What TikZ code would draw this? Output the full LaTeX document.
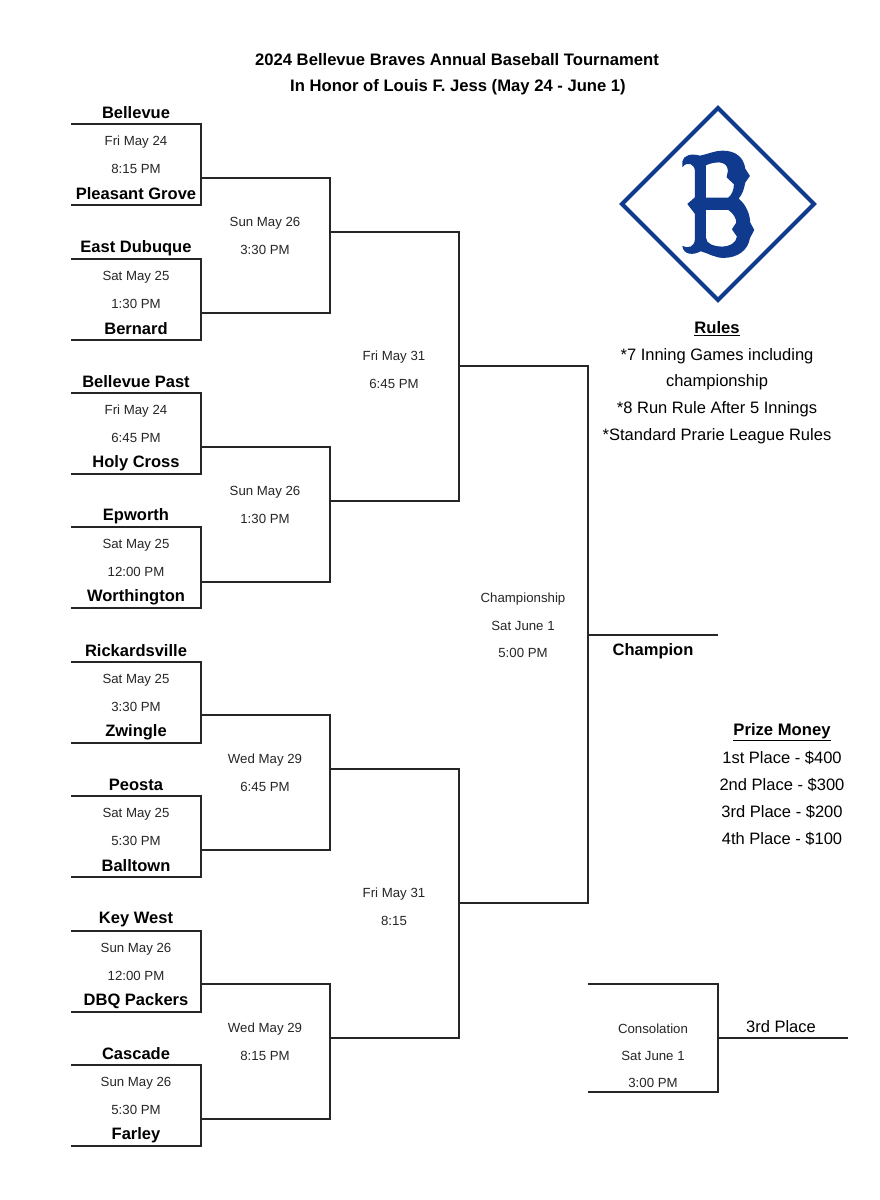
\documentclass[tikz,border=0pt]{standalone}
\usepackage{fontspec}
\setmainfont{Liberation Sans}
\definecolor{bravesblue}{HTML}{103A8E}

\begin{document}
\begin{tikzpicture}[x=0.03cm,y=-0.03cm,
    team/.style={font=\fontsize{14.1pt}{16pt}\selectfont\bfseries},
    game/.style={font=\fontsize{11.3pt}{13pt}\selectfont,text=black!85},
    note/.style={font=\fontsize{14.1pt}{16pt}\selectfont},
    heading/.style={font=\fontsize{14.2pt}{16pt}\selectfont\bfseries},
    bracket/.style={line width=1.05pt,black!85,line join=miter}]
    \useasboundingbox[fill=white] (0,0) rectangle (880,1200);

    % 标题
    \node[heading] (title1) at (457,60) {2024 Bellevue Braves Annual Baseball Tournament};
    \node[heading] (title2) at (458,87) {In Honor of Louis F. Jess (May 24 - June 1)};

    % 第一轮
    \foreach \n/\y/\a/\b/\d/\t in {1/124/Bellevue/Pleasant Grove/Fri May 24/8:15 PM,
        2/259/East Dubuque/Bernard/Sat May 25/1:30 PM,
        3/393/Bellevue Past/Holy Cross/Fri May 24/6:45 PM,
        4/527/Epworth/Worthington/Sat May 25/12:00 PM,
        5/662/Rickardsville/Zwingle/Sat May 25/3:30 PM,
        6/796/Peosta/Balltown/Sat May 25/5:30 PM,
        7/931/Key West/DBQ Packers/Sun May 26/12:00 PM,
        8/1065/Cascade/Farley/Sun May 26/5:30 PM} {
        \draw[bracket] (71,\y) -| (201,\y+81) -- (71,\y+81);
        \node[team] (top\n) at (136,\y-11) {\a};
        \node[team] (bot\n) at (136,\y+70) {\b};
        \node[game] (day\n) at (136,\y+18) {\d};
        \node[game] (time\n) at (136,\y+45) {\t};
    }

    % 第二轮
    \foreach \n/\y/\d/\t in {1/178/Sun May 26/3:30 PM,2/447/Sun May 26/1:30 PM,3/715/Wed May 29/6:45 PM,4/984/Wed May 29/8:15 PM} {
        \draw[bracket] (201,\y) -| (330,\y+135) -- (201,\y+135);
        \node[game] (dayb\n) at (265,\y+45) {\d};
        \node[game] (timeb\n) at (265,\y+72) {\t};
    }

    % 半决赛
    \foreach \n/\y/\d/\t in {1/232/Fri May 31/6:45 PM,2/769/Fri May 31/8:15} {
        \draw[bracket] (330,\y) -| (459,\y+269) -- (330,\y+269);
        \node[game] (dayc\n) at (394,\y+125) {\d};
        \node[game] (timec\n) at (394,\y+152) {\t};
    }

    % 决赛
    \draw[bracket] (459,366) -| (588,903) -- (459,903);
    \draw[bracket] (588,635) -- (718,635);
    \node[game] (final1) at (523,599) {Championship};
    \node[game] (final2) at (523,626) {Sat June 1};
    \node[game] (final3) at (523,653) {5:00 PM};
    \node[team] (champion) at (653,651) {Champion};

    % 季军赛
    \draw[bracket] (588,984) -| (718,1092) -- (588,1092);
    \draw[bracket] (718,1038) -- (848,1038);
    \node[game] (cons1) at (653,1029) {Consolation};
    \node[game] (cons2) at (653,1056) {Sat June 1};
    \node[game] (cons3) at (653,1083) {3:00 PM};
    \node[note] (third) at (781,1027) {3rd Place};

    % 队徽
    \draw[bravesblue,line width=3.4pt,line join=miter] (718,108) -- (814,204) -- (718,300) -- (622,204) -- cycle;
    \begin{scope}[shift={(600,90)},x=0.01cm,y=-0.01cm]
        \fill[bravesblue,even odd rule] (247,215) .. controls (250,195) and (275,190) .. (300,197)
            .. controls (325,192) and (345,182) .. (368,182)
            .. controls (410,182) and (432,205) .. (436,236) -- (450,258) -- (436,278)
            .. controls (432,300) and (426,315) .. (416,326)
            .. controls (440,345) and (450,375) .. (451,398) -- (463,420) -- (450,445)
            .. controls (444,482) and (412,504) .. (370,504)
            .. controls (345,504) and (325,490) .. (302,484)
            .. controls (280,497) and (250,495) .. (247,468)
            .. controls (265,478) and (285,470) .. (285,445)
            -- (285,372) -- (262,342) -- (285,322) -- (285,245)
            .. controls (285,222) and (262,212) .. (247,232) -- cycle
            (318,226) .. controls (340,216) and (382,208) .. (384,242)
            -- (380,262) -- (402,283) .. controls (402,300) and (395,315) .. (385,323)
            -- (318,323) -- cycle
            (318,360) -- (385,360) .. controls (400,370) and (409,385) .. (409,398)
            -- (396,418) -- (411,440) .. controls (409,458) and (390,470) .. (365,470)
            .. controls (345,470) and (318,463) .. (318,443) -- cycle;
    \end{scope}

    % 规则
    \node[heading] (rules) at (717,329) {\underline{Rules}};
    \foreach \n/\y/\t in {1/356/*7 Inning Games including,2/382/championship,3/409/*8 Run Rule After 5 Innings,4/436/*Standard Prarie League Rules} {
        \node[note] (rule\n) at (717,\y) {\t};
    }

    % 奖金
    \node[heading] (prize) at (782,732) {\underline{Prize Money}};
    \foreach \n/\y/\t in {1/758/1st Place - \$400,2/785/2nd Place - \$300,3/812/3rd Place - \$200,4/839/4th Place - \$100} {
        \node[note] (place\n) at (782,\y) {\t};
    }
\end{tikzpicture}
\end{document}
